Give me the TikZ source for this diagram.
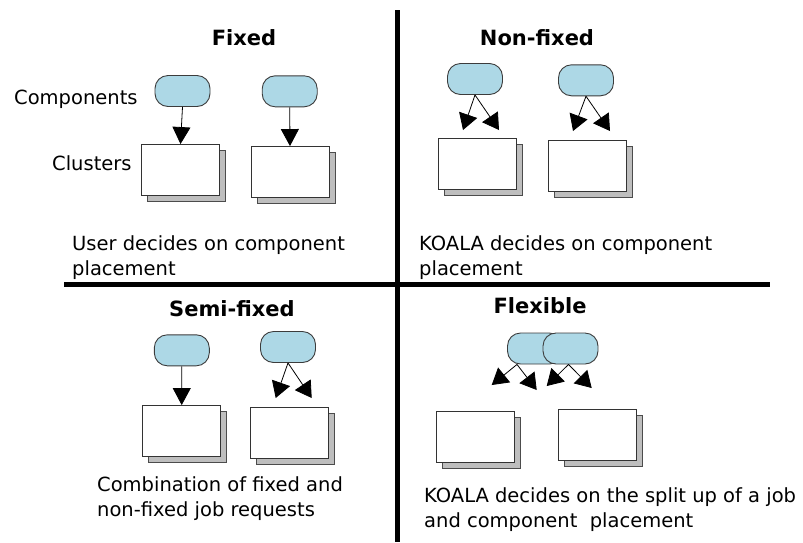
\documentclass[tikz,border=0pt]{standalone}
\usepackage{fontspec}
\setmainfont{DejaVu Sans}
\usetikzlibrary{arrows.meta,shadows}
\definecolor{pillblue}{RGB}{173,216,230}
\definecolor{shadowgray}{RGB}{190,190,190}
\definecolor{edgegray}{RGB}{60,60,60}

\begin{document}
\begin{tikzpicture}[x=1pt,y=-1pt,
  comp/.style={draw=edgegray, line width=0.9pt, fill=pillblue, rounded corners=13pt,
    minimum width=55pt, minimum height=31pt, inner sep=0pt},
  cluster/.style={draw=black!80, line width=0.9pt, fill=white,
    minimum width=78pt, minimum height=51pt, inner sep=0pt,
    copy shadow={shadow xshift=6pt, shadow yshift=-6pt, fill=shadowgray, draw=black!70}},
  link/.style={line width=0.8pt, -{Triangle[length=17pt,width=18pt]}},
  slink/.style={line width=0.8pt, -{Triangle[length=16pt,width=19pt]}},
  divider/.style={line width=5pt},
  title/.style={font=\fontsize{21}{25}\selectfont\bfseries, anchor=base, inner sep=0pt},
  body/.style={font=\fontsize{19.5}{25}\selectfont, anchor=base west, align=left, inner sep=0pt},
]
\useasboundingbox (0,0) rectangle (803,542);

% quadrant dividers
\draw[divider] (397,10) -- (397,542);
\draw[divider] (64,284.5) -- (770,284.5);

% ---- Fixed ----
\node[title] (tfix) at (244,45) {Fixed};
\node[body] (lcomp) at (14,104) {Components};
\node[body] (lclus) at (52,170) {Clusters};
\node[comp] (c1) at (182.5,91) {};
\node[comp] (c2) at (289.7,91.3) {};
\node[cluster] (k1) at (180.5,170) {};
\node[cluster] (k2) at (290,172) {};
\draw[link] (c1.south) -- (k1.north);
\draw[link] (c2.south) -- (k2.north);
% multi-line nodes sit on the baseline of their last line
\node[body] (dfix) at (72,275) {User decides on component\\placement};

% ---- Non-fixed ----
\node[title] (tnon) at (537,45) {Non-fixed};
\node[comp] (c3) at (475,79) {};
\node[comp] (c4) at (586,80.3) {};
\node[cluster] (k3) at (477.5,164) {};
\node[cluster] (k4) at (587,166) {};
\coordinate (t3a) at (463,130);
\coordinate (t3b) at (499,130);
\coordinate (t4a) at (573,131);
\coordinate (t4b) at (610,131);
\draw[slink] (c3.south) -- (t3a);
\draw[slink] (c3.south) -- (t3b);
\draw[slink] (c4.south) -- (t4a);
\draw[slink] (c4.south) -- (t4b);
\node[body] (dnon) at (419,275) {KOALA decides on component\\placement};

% ---- Semi-fixed ----
\node[title] (tsemi) at (232,316) {Semi-fixed};
\node[comp] (c5) at (181.8,350.3) {};
\node[comp] (c6) at (288,347) {};
\node[cluster] (k5) at (181.7,431) {};
\node[cluster] (k6) at (289.5,433) {};
\coordinate (t6a) at (275.7,398);
\coordinate (t6b) at (311.7,398);
\draw[link] (c5.south) -- (k5.north);
\draw[slink] (c6.south) -- (t6a);
\draw[slink] (c6.south) -- (t6b);
\node[body] (dsemi) at (97,516) {Combination of fixed and\\non-fixed job requests};

% ---- Flexible ----
\node[title] (tflex) at (540,313) {Flexible};
\node[comp] (c7) at (535,348.5) {};
\node[comp] (c8) at (570.5,348.5) {};
\node[cluster] (k7) at (475,436.7) {};
\node[cluster] (k8) at (597.5,434.7) {};
\coordinate (s7) at ([xshift=-18pt]c7.south);
\coordinate (s8) at ([xshift=-2pt]c8.south);
\coordinate (t7a) at (491.7,385);
\coordinate (t7b) at (536.7,390);
\coordinate (t8a) at (546.7,386);
\coordinate (t8b) at (591.7,388);
\draw[slink] (s7) -- (t7a);
\draw[slink] (s7) -- (t7b);
\draw[slink] (s8) -- (t8a);
\draw[slink] (s8) -- (t8b);
\node[body] (dflex) at (424,527) {KOALA decides on the split up of a job\\and component\ \ placement};
\end{tikzpicture}
\end{document}
